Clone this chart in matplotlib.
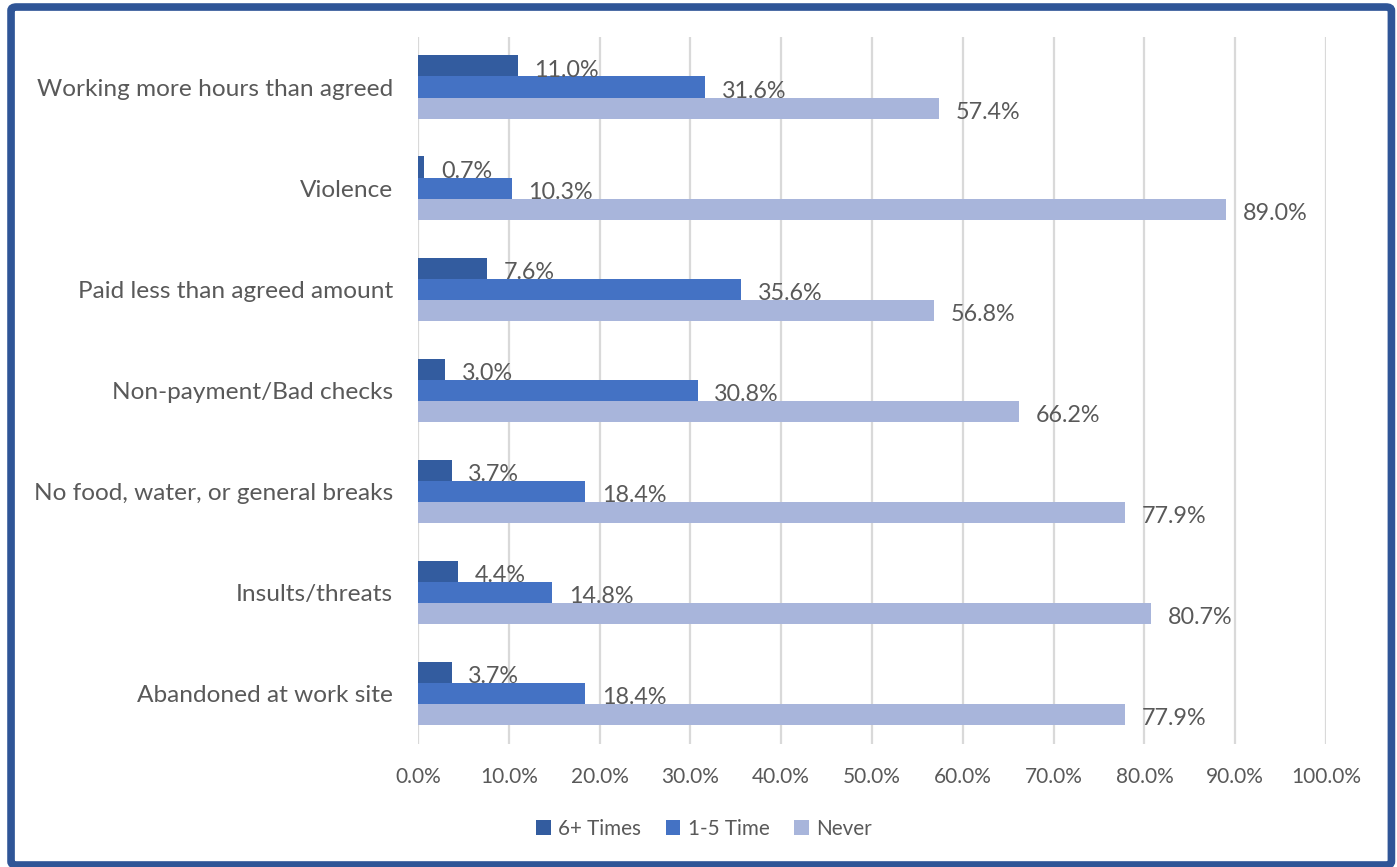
import matplotlib
matplotlib.use("Agg")
import matplotlib.pyplot as plt
from matplotlib.patches import FancyBboxPatch
import numpy as np

plt.rcParams['font.family'] = ['Lato', 'DejaVu Sans']

categories = [
    "Working more hours than agreed",
    "Violence",
    "Paid less than agreed amount",
    "Non-payment/Bad checks",
    "No food, water, or general breaks",
    "Insults/threats",
    "Abandoned at work site",
]
series_names = ["6+ Times", "1-5 Time", "Never"]
six_plus = [11.0, 0.7, 7.6, 3.0, 3.7, 4.4, 3.7]
one_to_five = [31.6, 10.3, 35.6, 30.8, 18.4, 14.8, 18.4]
never = [57.4, 89.0, 56.8, 66.2, 77.9, 80.7, 77.9]
x_ticks = [0, 10, 20, 30, 40, 50, 60, 70, 80, 90, 100]

colors = ["#335C9F", "#4472C4", "#A8B5DB"]
text_grey = "#595959"

fig = plt.figure(figsize=(13.97, 8.67), dpi=100)
ax = fig.add_axes([0.2992, 0.1424, 0.65, 0.8155])

y = np.arange(len(categories))
bar_h = 0.208
offsets = [-bar_h, 0, bar_h]

for vals, off, col, name in zip([six_plus, one_to_five, never], offsets, colors, series_names):
    ax.barh(y + off, vals, height=bar_h, color=col, label=name, zorder=3)
    for yi, v in zip(y, vals):
        ax.annotate(f"{v:.1f}%", (v, yi + off), xytext=(12, -3),
                    textcoords="offset points", va="center", ha="left",
                    fontsize=16.8, color=text_grey, zorder=4)

ax.set_xlim(0, 100)
ax.set_ylim(len(categories) - 0.5, -0.5)
ax.set_xticks(x_ticks)
ax.set_xticklabels([f"{t:.1f}%" for t in x_ticks])
ax.set_yticks(y)
ax.set_yticklabels(categories)
ax.tick_params(axis="x", length=0, pad=17, labelsize=15, labelcolor=text_grey)
ax.tick_params(axis="y", length=0, pad=18, labelsize=17.6, labelcolor=text_grey)
ax.grid(axis="x", color="#D9D9D9", linewidth=1.6, zorder=0)
for s in ax.spines.values():
    s.set_visible(False)

leg = fig.legend(loc="center", bbox_to_anchor=(0.504, 0.044), ncol=3, frameon=False,
                 fontsize=14.9, handlelength=0.7, handleheight=0.7,
                 handletextpad=0.35, columnspacing=1.2, labelcolor=text_grey)

# dark blue frame around the whole figure
frame = FancyBboxPatch((0.0079, 0.0023), 0.9881, 0.9896,
                       boxstyle="round,pad=0,rounding_size=0.004",
                       transform=fig.transFigure, fill=False,
                       edgecolor="#2F5597", linewidth=5.5, zorder=10)
fig.patches.append(frame)

fig.savefig("out.png", dpi=100)
